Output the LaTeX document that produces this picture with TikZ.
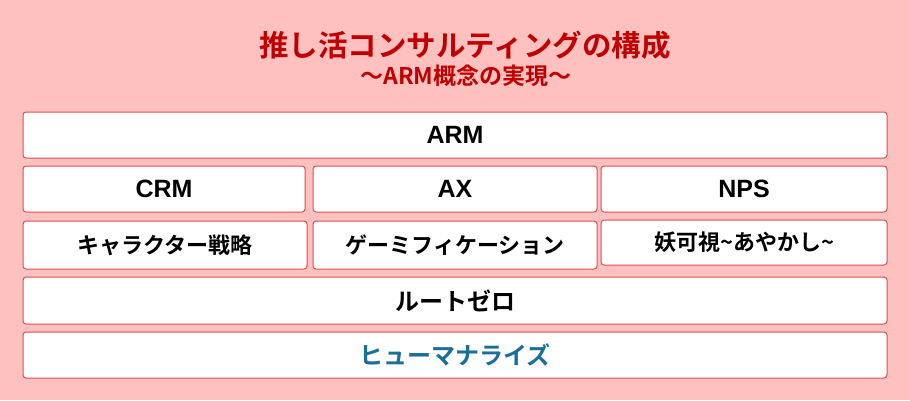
\documentclass[tikz,border=0pt]{standalone}
\usepackage{fontspec}
\setmainfont{Noto Sans CJK JP}[BoldFont={* Bold}]
\newfontfamily\jp{Noto Sans CJK JP Bold}
\newfontfamily\lat{Liberation Sans}[BoldFont={* Bold}]
\definecolor{bgpink}{HTML}{FFC0C0}
\definecolor{titlered}{HTML}{C00000}
\definecolor{boxedge}{HTML}{D94F4F}
\definecolor{bluetext}{HTML}{1A6E9A}
\tikzset{
  layerbox/.style={draw=boxedge, line width=1pt, fill=white, rounded corners=3pt, inner sep=0pt, font=\jp\fontsize{24}{26}\selectfont, text=black},
  latinbox/.style={layerbox, font=\lat\bfseries\fontsize{25}{27}\selectfont},
  smallbox/.style={layerbox, font=\jp\fontsize{22}{24}\selectfont},
}
\begin{document}
\begin{tikzpicture}[x=1pt,y=-1pt]
\fill[bgpink] (0,0) rectangle (910,400);
\useasboundingbox (0,0) rectangle (910,400);
\node[font=\jp\fontsize{29.5}{32}\selectfont, text=titlered] (title) at (465,45) {推し活コンサルティングの構成};
\node[font=\jp\fontsize{23}{26}\selectfont, text=titlered] (subtitle) at (466,76) {〜ARM概念の実現〜};
\node[latinbox, minimum width=864, minimum height=46] (arm) at (455,135) {ARM};
\node[latinbox, minimum width=282, minimum height=46] (crm) at (164,189) {CRM};
\node[latinbox, minimum width=284, minimum height=46] (ax) at (455,189) {AX};
\node[latinbox, minimum width=286, minimum height=46] (nps) at (744,189) {NPS};
\node[smallbox, minimum width=284, minimum height=48] (chara) at (165,245) {キャラクター戦略};
\node[smallbox, minimum width=284, minimum height=48] (game) at (455,245) {ゲーミフィケーション};
\node[smallbox, minimum width=286, minimum height=45] (ayakashi) at (744,242.5) {妖可視\char"007E あやかし\char"007E};
\node[layerbox, minimum width=864, minimum height=47] (root) at (455,300.5) {ルートゼロ};
\node[layerbox, minimum width=864, minimum height=46, text=bluetext] (human) at (455,355) {ヒューマナライズ};
\end{tikzpicture}
\end{document}
